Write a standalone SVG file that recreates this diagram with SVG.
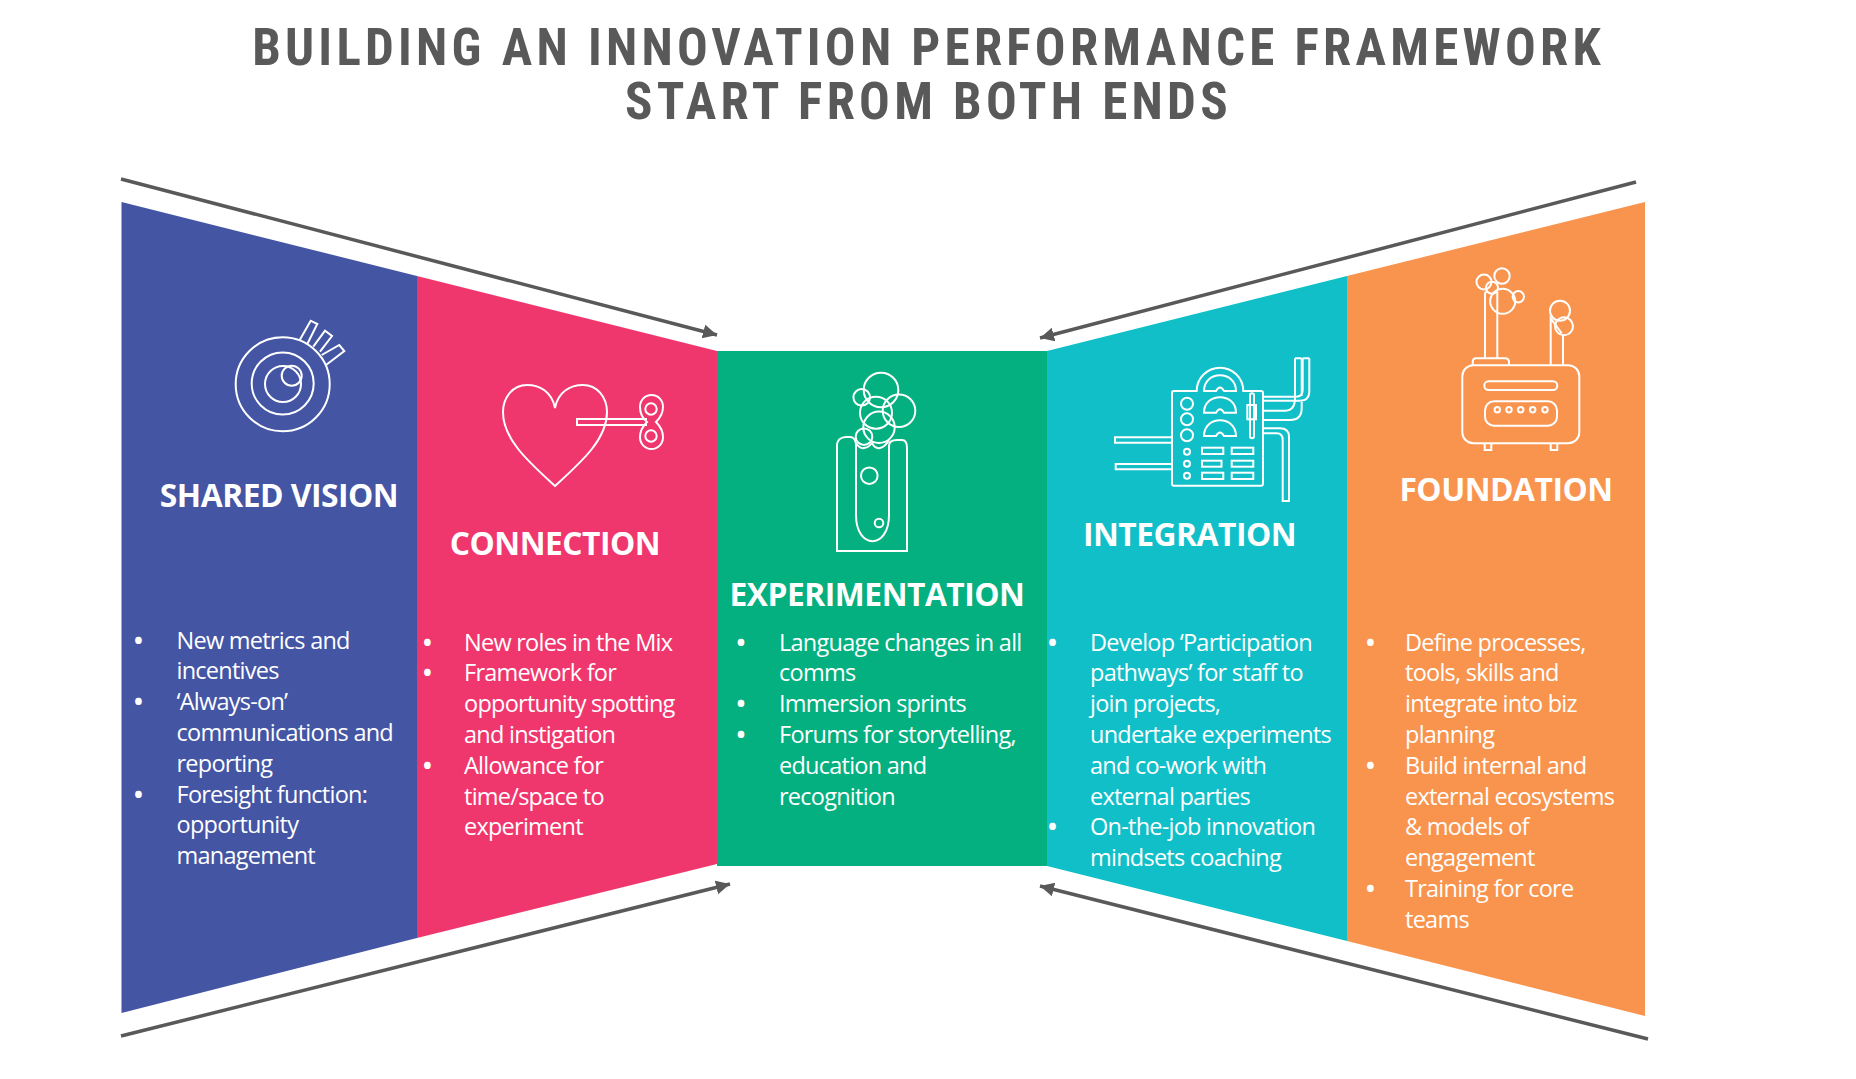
<svg xmlns="http://www.w3.org/2000/svg" width="1856" height="1079" viewBox="0 0 1856 1079">
<style>
.t{font-family:"Liberation Sans Narrow","Roboto Condensed","Liberation Sans",sans-serif;font-weight:700;font-size:51px;fill:#595959;text-anchor:middle;letter-spacing:4.25px}
.h{font-family:"Open Sans",sans-serif;font-weight:700;font-size:31.8px;fill:#fff;text-anchor:middle;letter-spacing:-.5px}
.b{font-family:"Open Sans",sans-serif;font-size:23.5px;fill:#fff;letter-spacing:-.75px}
.d{font-weight:700}
.i{fill:none;stroke:#fff;stroke-width:2}
.a{stroke:#595959;stroke-width:3.5;fill:none;marker-end:url(#ah)}
</style>
<defs><marker id="ah" markerUnits="userSpaceOnUse" markerWidth="16" markerHeight="16" refX="14" refY="7" orient="auto"><path d="M0 0L14 7L0 14z" fill="#595959"/></marker></defs>
<g id="title"><text class="t" x="928.5" y="65">BUILDING AN INNOVATION PERFORMANCE FRAMEWORK</text><text class="t" x="928.5" y="119">START FROM BOTH ENDS</text></g>
<g id="shared-vision"><path d="M121.5 202L417 276V938L121.5 1013z" fill="#4455a4"/>
<g class="i"><circle cx="282.7" cy="384.3" r="47"/><circle cx="282.7" cy="383.5" r="31"/><circle cx="283" cy="384" r="18"/><circle cx="291.7" cy="375.7" r="10"/><path d="M299.3 340.7L310.7 320.7L317.3 324L307.3 344M313.3 346.7L325 330.7L332 336L320 351.7M321.7 355L339.3 345L344.3 351L326 365"/></g>
<text class="h" x="279" y="506.5">SHARED VISION</text>
<text class="b"><tspan class="d" x="134" y="648.6">•</tspan><tspan x="176.5" y="648.6">New metrics and</tspan><tspan x="176.5" y="679.4">incentives</tspan><tspan class="d" x="134" y="710.2">•</tspan><tspan x="176.5" y="710.2">‘Always-on’</tspan><tspan x="176.5" y="741">communications and</tspan><tspan x="176.5" y="771.8">reporting</tspan><tspan class="d" x="134" y="802.6">•</tspan><tspan x="176.5" y="802.6">Foresight function:</tspan><tspan x="176.5" y="833.4">opportunity</tspan><tspan x="176.5" y="864.2">management</tspan></text></g>
<g id="connection"><path d="M417 276L717 351V864L417 938z" fill="#ef376e"/>
<g class="i"><path d="M555 408C552 392 540 385 527 385C513 385 503 397 503 412C503 440 530 463 555 486C580 463 607 440 607 412C607 397 597 385 583 385C570 385 558 392 555 408z"/><path d="M647 419H577V425H647"/><path d="M647 422C641 417 640 411 640 407C640 400 645 395 651.5 395C658 395 663 400 663 407C663 411 661 417 656 422C661 427 663 431 663 437C663 444 658 449 651.5 449C645 449 640 444 640 437C640 431 642 427 647 422z"/><circle cx="651" cy="409" r="5.7"/><circle cx="651" cy="436" r="5.7"/></g>
<text class="h" x="555" y="555">CONNECTION</text>
<text class="b"><tspan class="d" x="423" y="650.6">•</tspan><tspan x="464" y="650.6">New roles in the Mix</tspan><tspan class="d" x="423" y="681.4">•</tspan><tspan x="464" y="681.4">Framework for</tspan><tspan x="464" y="712.2">opportunity spotting</tspan><tspan x="464" y="743">and instigation</tspan><tspan class="d" x="423" y="773.8">•</tspan><tspan x="464" y="773.8">Allowance for</tspan><tspan x="464" y="804.6">time/space to</tspan><tspan x="464" y="835.4">experiment</tspan></text></g>
<g id="experimentation"><rect x="717" y="351" width="330" height="515" fill="#04b07f"/>
<g class="i"><circle cx="881" cy="390" r="17.3"/><circle cx="861.7" cy="397.3" r="8.3"/><circle cx="876" cy="412.7" r="16"/><circle cx="899" cy="410.7" r="16.3"/><circle cx="879" cy="427.3" r="15.7"/><circle cx="864" cy="436.7" r="8.3"/><circle cx="869.3" cy="475.7" r="8.3"/><circle cx="879" cy="523" r="4.3"/><path d="M856 446V515C856 550 889 550 889 515V446C889 441 893 440 897 440H902C906 440 907 444 907 448V551H837V446C837 440 841 437 846 437H850C854 437 856 441 856 446M856 443Q860 449 864 448Q868 448 872 443Q875 449 880 448Q885 447 889 440"/></g>
<text class="h" x="877" y="606">EXPERIMENTATION</text>
<text class="b"><tspan class="d" x="736.5" y="650.6">•</tspan><tspan x="779" y="650.6">Language changes in all</tspan><tspan x="779" y="681.4">comms</tspan><tspan class="d" x="736.5" y="712.2">•</tspan><tspan x="779" y="712.2">Immersion sprints</tspan><tspan class="d" x="736.5" y="743">•</tspan><tspan x="779" y="743">Forums for storytelling,</tspan><tspan x="779" y="773.8">education and</tspan><tspan x="779" y="804.6">recognition</tspan></text></g>
<g id="integration"><path d="M1047 351L1347 276V941L1047 866z" fill="#10bfc8"/>
<g class="i"><path d="M1172 393Q1172 391 1174 391H1196.7A23.3 23.3 0 0 1 1243.3 391H1261Q1263 391 1263 393V483.7Q1263 485.7 1261 485.7H1174Q1172 485.7 1172 483.7z"/><path d="M1204 391C1204 370 1236 370 1236 391H1224Q1220 384 1216 391zM1204 412.7C1204 392 1236 392 1236 412.7H1224Q1220 406 1216 412.7zM1204 436C1204 415 1236 415 1236 436H1224Q1220 429 1216 436z"/><circle cx="1187" cy="403.7" r="6"/><circle cx="1187" cy="419.3" r="6"/><circle cx="1187" cy="435.3" r="6"/><circle cx="1187" cy="451.7" r="3"/><circle cx="1187" cy="463.7" r="3"/><circle cx="1187" cy="475.7" r="3"/><rect x="1202" y="447.7" width="21.3" height="6.3"/><rect x="1202" y="460.7" width="19.5" height="6"/><rect x="1202" y="472.7" width="21.3" height="6.3"/><rect x="1231.7" y="447.7" width="21.6" height="6.3"/><rect x="1231.7" y="460.7" width="21.6" height="6"/><rect x="1231.7" y="472.7" width="21.6" height="6.3"/><rect x="1250" y="393.3" width="4" height="45" rx="2"/><rect x="1247.3" y="405" width="8.7" height="14.3"/><path d="M1295 358.3H1301.7M1302.7 358.3H1309.3M1309.3 358.3V391Q1309.3 400.7 1300 400.7H1263M1302.7 358.3V390Q1302.7 396.7 1296 396.7H1263M1295 358.3V398Q1295 410.7 1285 410.7H1263M1301.7 358.3V396M1301.7 402V408Q1301.7 420 1290 420H1263M1263 428.3H1280Q1289 428.3 1289 437V501H1282.7V440Q1282.7 433.3 1276.7 433.3H1263M1172 437.3H1115V442.7H1172M1172 464H1115.7V469.3H1172"/></g>
<text class="h" x="1189.5" y="546">INTEGRATION</text>
<text class="b"><tspan class="d" x="1048" y="650.6">•</tspan><tspan x="1090" y="650.6">Develop ‘Participation</tspan><tspan x="1090" y="681.4">pathways’ for staff to</tspan><tspan x="1090" y="712.2">join projects,</tspan><tspan x="1090" y="743">undertake experiments</tspan><tspan x="1090" y="773.8">and co-work with</tspan><tspan x="1090" y="804.6">external parties</tspan><tspan class="d" x="1048" y="835.4">•</tspan><tspan x="1090" y="835.4">On-the-job innovation</tspan><tspan x="1090" y="866.2">mindsets coaching</tspan></text></g>
<g id="foundation"><path d="M1347 276L1645 202V1016L1347 941z" fill="#f9944e"/>
<g class="i"><rect x="1462.3" y="365.3" width="117" height="78" rx="11"/><path d="M1472.7 365.3V362Q1472.7 358.3 1476 358.3H1505Q1509 358.3 1509 362V365.3M1485 358.3V294Q1485 291.7 1488 291.7M1497.3 358.3V291.7M1550.7 365.3V318.3L1561.7 333.3M1563 365.3V335M1484.7 443.3V450H1491.3V443.3M1550.7 443.3V450H1557.3V443.3"/><rect x="1484.3" y="381.3" width="73" height="8.7" rx="4.3"/><rect x="1485" y="401.3" width="72" height="24.4" rx="9"/><circle cx="1497.3" cy="409.7" r="2.7"/><circle cx="1509" cy="409.7" r="2.7"/><circle cx="1520.7" cy="409.7" r="2.7"/><circle cx="1532.7" cy="409.7" r="2.7"/><circle cx="1545" cy="409.7" r="2.7"/><circle cx="1484" cy="282" r="7.5"/><circle cx="1502" cy="276" r="7.7"/><circle cx="1492" cy="287.7" r="6"/><circle cx="1502.7" cy="301.3" r="12.5"/><circle cx="1518.3" cy="296.7" r="5.7"/><circle cx="1560" cy="310.7" r="10"/><circle cx="1564" cy="326.3" r="9"/></g>
<text class="h" x="1506" y="501">FOUNDATION</text>
<text class="b"><tspan class="d" x="1366" y="650.6">•</tspan><tspan x="1405" y="650.6">Define processes,</tspan><tspan x="1405" y="681.4">tools, skills and</tspan><tspan x="1405" y="712.2">integrate into biz</tspan><tspan x="1405" y="743">planning</tspan><tspan class="d" x="1366" y="773.8">•</tspan><tspan x="1405" y="773.8">Build internal and</tspan><tspan x="1405" y="804.6">external ecosystems</tspan><tspan x="1405" y="835.4">&amp; models of</tspan><tspan x="1405" y="866.2">engagement</tspan><tspan class="d" x="1366" y="897">•</tspan><tspan x="1405" y="897">Training for core</tspan><tspan x="1405" y="927.8">teams</tspan></text></g>
<g id="connectors"><path class="a" d="M121 179L717 335"/><path class="a" d="M1636 182L1040 338"/><path class="a" d="M121 1036L730 884"/><path class="a" d="M1648 1039L1040 886"/></g>
</svg>
